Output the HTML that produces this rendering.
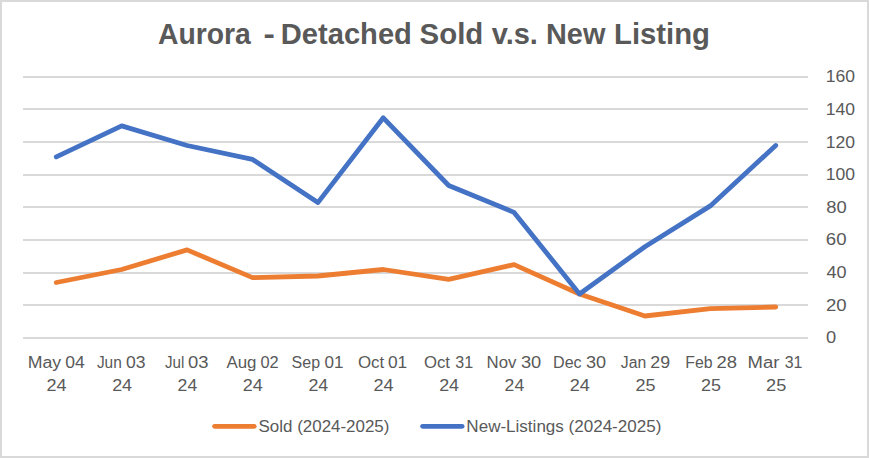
<!DOCTYPE html>
<html lang="en"><head><meta charset="utf-8"><title>Aurora - Detached Sold v.s. New Listing</title>
<style>html,body{margin:0;padding:0;background:#fff}body{width:869px;height:458px;overflow:hidden}svg{display:block}text{font-family:"Liberation Sans",sans-serif;fill:#595959;white-space:pre}.t{font-weight:bold}</style></head><body>
<svg width="869" height="458" viewBox="0 0 869 458">
<rect x="0" y="0" width="869" height="458" fill="#fff"/>
<rect x="1" y="1" width="867" height="456" fill="none" stroke="#d9d9d9" stroke-width="2"/>
<g fill="#d9d9d9">
<rect x="23" y="76" width="785" height="2"/>
<rect x="23" y="108" width="785" height="2"/>
<rect x="23" y="141" width="785" height="2"/>
<rect x="23" y="174" width="785" height="2"/>
<rect x="23" y="206" width="785" height="2"/>
<rect x="23" y="239" width="785" height="2"/>
<rect x="23" y="272" width="785" height="2"/>
<rect x="23" y="304" width="785" height="2"/>
<rect x="23" y="337" width="785" height="2"/>
</g>
<polyline points="56.3,282.5 121.7,269.5 187.1,249.9 252.5,277.6 317.9,276.0 383.3,269.5 448.7,279.3 514.1,264.6 579.5,294.0 644.9,316.0 710.3,308.6 775.7,307.0" fill="none" stroke="#ed7d31" stroke-width="4.8" stroke-linecap="round" stroke-linejoin="round"/>
<polyline points="56.3,156.9 121.7,125.9 187.1,145.5 252.5,159.4 317.9,202.6 383.3,117.8 448.7,185.5 514.1,212.4 579.5,294.0 644.9,246.7 710.3,205.9 775.7,145.5" fill="none" stroke="#4472c4" stroke-width="4.8" stroke-linecap="round" stroke-linejoin="round"/>
<text class="t" id="title" y="43.6" font-size="28.9"><tspan id="t0" x="158.00" textLength="92.86" lengthAdjust="spacingAndGlyphs">Aurora</tspan>  <tspan id="t1" x="263.44" textLength="11.34" lengthAdjust="spacingAndGlyphs">-</tspan> <tspan id="t2" x="280.84" textLength="131.05" lengthAdjust="spacingAndGlyphs">Detached</tspan> <tspan id="t3" x="419.60" textLength="63.71" lengthAdjust="spacingAndGlyphs">Sold</tspan> <tspan id="t4" x="491.68" textLength="46.21" lengthAdjust="spacingAndGlyphs">v.s.</tspan> <tspan id="t5" x="546.04" textLength="59.32" lengthAdjust="spacingAndGlyphs">New</tspan> <tspan id="t6" x="614.02" textLength="95.85" lengthAdjust="spacingAndGlyphs">Listing</tspan></text>
<g font-size="15.8">
<text y="367.5"><tspan id="m0" x="27.67" textLength="33.49" lengthAdjust="spacingAndGlyphs">May</tspan> <tspan id="d0" x="65.31" textLength="19.49" lengthAdjust="spacingAndGlyphs">04</tspan></text>
<text id="y0" x="46.59" textLength="20.09" lengthAdjust="spacingAndGlyphs" y="390.8">24</text>
<text y="367.5"><tspan id="m1" x="96.90" textLength="24.88" lengthAdjust="spacingAndGlyphs">Jun</tspan> <tspan id="d1" x="125.94" textLength="19.50" lengthAdjust="spacingAndGlyphs">03</tspan></text>
<text id="y1" x="112.16" textLength="19.91" lengthAdjust="spacingAndGlyphs" y="390.8">24</text>
<text y="367.5"><tspan id="m2" x="164.91" textLength="19.42" lengthAdjust="spacingAndGlyphs">Jul</tspan> <tspan id="d2" x="187.99" textLength="20.49" lengthAdjust="spacingAndGlyphs">03</tspan></text>
<text id="y2" x="177.62" textLength="19.58" lengthAdjust="spacingAndGlyphs" y="390.8">24</text>
<text y="367.5"><tspan id="m3" x="226.40" textLength="30.07" lengthAdjust="spacingAndGlyphs">Aug</tspan> <tspan id="d3" x="260.47" textLength="18.27" lengthAdjust="spacingAndGlyphs">02</tspan></text>
<text id="y3" x="242.72" textLength="20.08" lengthAdjust="spacingAndGlyphs" y="390.8">24</text>
<text y="367.5"><tspan id="m4" x="291.58" textLength="28.44" lengthAdjust="spacingAndGlyphs">Sep</tspan> <tspan id="d4" x="324.47" textLength="18.98" lengthAdjust="spacingAndGlyphs">01</tspan></text>
<text id="y4" x="308.45" textLength="19.81" lengthAdjust="spacingAndGlyphs" y="390.8">24</text>
<text y="367.5"><tspan id="m5" x="357.90" textLength="26.25" lengthAdjust="spacingAndGlyphs">Oct</tspan> <tspan id="d5" x="387.98" textLength="19.29" lengthAdjust="spacingAndGlyphs">01</tspan></text>
<text id="y5" x="373.59" textLength="20.09" lengthAdjust="spacingAndGlyphs" y="390.8">24</text>
<text y="367.5"><tspan id="m6" x="424.05" textLength="25.96" lengthAdjust="spacingAndGlyphs">Oct</tspan> <tspan id="d6" x="455.22" textLength="17.87" lengthAdjust="spacingAndGlyphs">31</tspan></text>
<text id="y6" x="439.16" textLength="19.91" lengthAdjust="spacingAndGlyphs" y="390.8">24</text>
<text y="367.5"><tspan id="m7" x="486.60" textLength="29.82" lengthAdjust="spacingAndGlyphs">Nov</tspan> <tspan id="d7" x="520.90" textLength="20.35" lengthAdjust="spacingAndGlyphs">30</tspan></text>
<text id="y7" x="504.62" textLength="19.58" lengthAdjust="spacingAndGlyphs" y="390.8">24</text>
<text y="367.5"><tspan id="m8" x="553.03" textLength="28.64" lengthAdjust="spacingAndGlyphs">Dec</tspan> <tspan id="d8" x="585.92" textLength="20.16" lengthAdjust="spacingAndGlyphs">30</tspan></text>
<text id="y8" x="569.72" textLength="20.08" lengthAdjust="spacingAndGlyphs" y="390.8">24</text>
<text y="367.5"><tspan id="m9" x="620.84" textLength="25.41" lengthAdjust="spacingAndGlyphs">Jan</tspan> <tspan id="d9" x="650.38" textLength="19.73" lengthAdjust="spacingAndGlyphs">29</tspan></text>
<text id="y9" x="635.40" textLength="20.04" lengthAdjust="spacingAndGlyphs" y="390.8">25</text>
<text y="367.5"><tspan id="m10" x="685.35" textLength="27.34" lengthAdjust="spacingAndGlyphs">Feb</tspan> <tspan id="d10" x="716.56" textLength="20.54" lengthAdjust="spacingAndGlyphs">28</tspan></text>
<text id="y10" x="700.94" textLength="19.94" lengthAdjust="spacingAndGlyphs" y="390.8">25</text>
<text y="367.5"><tspan id="m11" x="747.62" textLength="31.85" lengthAdjust="spacingAndGlyphs">Mar</tspan> <tspan id="d11" x="784.67" textLength="17.69" lengthAdjust="spacingAndGlyphs">31</tspan></text>
<text id="y11" x="766.07" textLength="20.20" lengthAdjust="spacingAndGlyphs" y="390.8">25</text>
<text id="a0" x="826.09" textLength="10.20" lengthAdjust="spacingAndGlyphs" y="343.30">0</text>
<text id="a1" x="825.92" textLength="20.67" lengthAdjust="spacingAndGlyphs" y="310.68">20</text>
<text id="a2" x="826.43" textLength="20.09" lengthAdjust="spacingAndGlyphs" y="278.05">40</text>
<text id="a3" x="825.87" textLength="20.71" lengthAdjust="spacingAndGlyphs" y="245.43">60</text>
<text id="a4" x="826.18" textLength="20.48" lengthAdjust="spacingAndGlyphs" y="212.80">80</text>
<text id="a5" x="825.83" textLength="29.29" lengthAdjust="spacingAndGlyphs" y="180.18">100</text>
<text id="a6" x="825.83" textLength="29.29" lengthAdjust="spacingAndGlyphs" y="147.55">120</text>
<text id="a7" x="825.83" textLength="29.29" lengthAdjust="spacingAndGlyphs" y="114.92">140</text>
<text id="a8" x="825.83" textLength="29.29" lengthAdjust="spacingAndGlyphs" y="82.30">160</text>
<text id="l0" x="258.58" textLength="130.85" lengthAdjust="spacingAndGlyphs" y="432.10">Sold (2024-2025)</text>
<text id="l1" x="466.38" textLength="194.97" lengthAdjust="spacingAndGlyphs" y="432.10">New-Listings (2024-2025)</text>
</g>
<g stroke-width="4.8" stroke-linecap="round"><line x1="214.6" y1="426.3" x2="254.2" y2="426.3" stroke="#ed7d31"/><line x1="422.6" y1="426.3" x2="462.1" y2="426.3" stroke="#4472c4"/></g>
</svg></body></html>
